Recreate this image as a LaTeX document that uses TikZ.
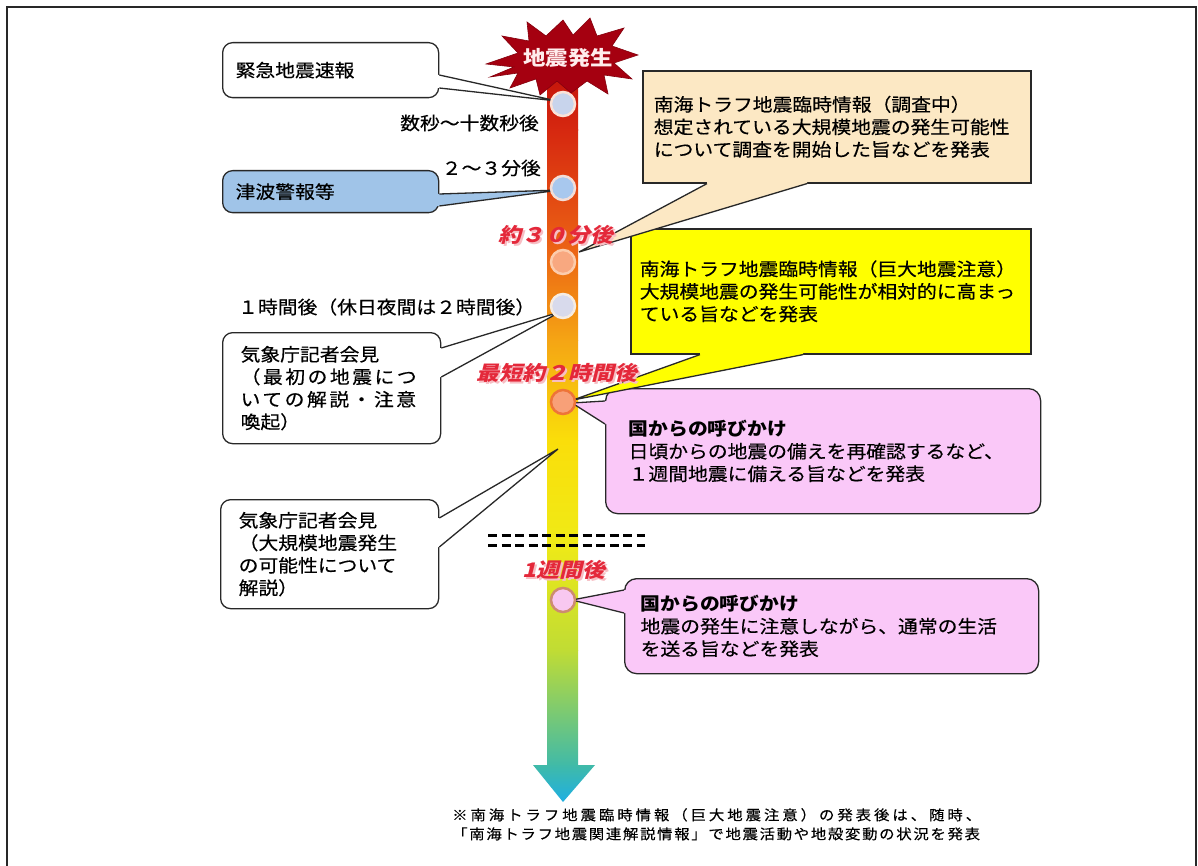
\documentclass[tikz,border=0pt]{standalone}
\usepackage{fontspec}
\newfontfamily\jp[FakeStretch=1.1,FakeBold=0.4]{Noto Sans CJK JP}
\newfontfamily\jpb[FakeStretch=1.1]{Noto Sans CJK JP}
\newfontfamily\jpwide[FakeStretch=1.1,FakeBold=0.4,LetterSpace=14]{Noto Sans CJK JP}
\newfontfamily\jpnoteA[FakeStretch=1.1,FakeBold=0.3,LetterSpace=21]{Noto Sans CJK JP}
\newfontfamily\jpnoteB[FakeStretch=1.1,FakeBold=0.3,LetterSpace=12]{Noto Sans CJK JP}
\newfontfamily\jpslant[FakeStretch=1.15,FakeSlant=0.25]{Noto Sans CJK JP}
\newfontfamily\jpburst[FakeStretch=1.12]{Noto Sans CJK JP}
\usetikzlibrary{calc}
\definecolor{edge}{RGB}{40,40,40}
\definecolor{labred}{RGB}{228,40,58}
\definecolor{tsunami}{RGB}{160,196,232}
\definecolor{beige}{RGB}{252,232,196}
\definecolor{yel}{RGB}{255,255,0}
\definecolor{pinkbox}{RGB}{250,200,248}
\definecolor{burstred}{RGB}{165,0,16}
\definecolor{bA1}{RGB}{185,8,8}
\definecolor{bA2}{RGB}{214,40,16}
\definecolor{bA3}{RGB}{236,100,20}
\definecolor{bA4}{RGB}{245,165,20}
\definecolor{bA5}{RGB}{250,222,10}
\definecolor{bA6}{RGB}{240,234,22}
\definecolor{bA7}{RGB}{192,220,52}
\definecolor{bA8}{RGB}{64,186,168}
\definecolor{bA9}{RGB}{30,175,226}
\definecolor{c1f}{RGB}{200,212,236}\definecolor{c1r}{RGB}{250,226,216}
\definecolor{c2f}{RGB}{168,200,238}\definecolor{c2r}{RGB}{242,222,216}
\definecolor{c3f}{RGB}{248,168,128}\definecolor{c3r}{RGB}{252,204,172}
\definecolor{c4f}{RGB}{216,218,236}\definecolor{c4r}{RGB}{246,236,226}
\definecolor{c5f}{RGB}{248,160,120}\definecolor{c5r}{RGB}{238,116,56}
\definecolor{c6f}{RGB}{248,200,240}\definecolor{c6r}{RGB}{205,140,112}
\newcommand\calltail[5]{%
  \fill[#5] ($#1+#4$) -- #1 -- #3 -- #2 -- ($#2+#4$) -- cycle;
  \draw[cline] #1 -- #3 -- #2;}
\begin{document}
\begin{tikzpicture}[x=1pt,y=-1pt,
  cline/.style={draw=edge, line width=1.3pt, line join=miter},
  rbox/.style={draw=edge, line width=1.3pt, rounded corners=10pt, anchor=north west,
    align=left, inner ysep=0pt, font=\jp\fontsize{18}{22.5}\selectfont},
  sbox/.style={rbox, rounded corners=0pt, line width=1.6pt},
  tlabel/.style={font=\jp\fontsize{18}{22}\selectfont, inner sep=0pt},
  redlab/.style={font=\jpslant\bfseries\fontsize{20}{24}\selectfont, text=labred, inner sep=0pt},
  redshadow/.style={redlab, text=labred!30},
  dot/.style={circle, minimum size=24pt, inner sep=0pt, line width=2.5pt},
]
\useasboundingbox (0,0) rectangle (1198,866);
\fill[white] (0,0) rectangle (1198,866);
% frame
\draw[line width=1.6pt, edge] (7,866) -- (7,7) -- (1196,7) -- (1196,866);

% time bar
\shade[top color=bA1, bottom color=bA2] (547,38) rectangle (578,130.5);
\shade[top color=bA2, bottom color=bA3] (547,130) rectangle (578,250.5);
\shade[top color=bA3, bottom color=bA4] (547,250) rectangle (578,340.5);
\shade[top color=bA4, bottom color=bA5] (547,340) rectangle (578,440.5);
\shade[top color=bA5, bottom color=bA6] (547,440) rectangle (578,540.5);
\shade[top color=bA6, bottom color=bA7] (547,540) rectangle (578,650.5);
\shade[top color=bA7, bottom color=bA8] (547,650) rectangle (578,766);
\shade[top color=bA8, bottom color=bA9] (533,765) -- (595,765) -- (563,802) -- cycle;

% starburst
\fill[burstred, draw=burstred!80!black, line width=0.6pt]
 (486,64) -- (518,53) -- (502,36) -- (529,41) -- (527,22) -- (546,36) -- (563,20)
 -- (573,35) -- (590,18) -- (597,36) -- (624,28) -- (612,46) -- (638,55) -- (614,63)
 -- (632,79) -- (604,75) -- (608,94) -- (587,81) -- (571,93) -- (557,81) -- (540,95)
 -- (536,79) -- (510,88) -- (518,73) -- (490,77) -- (514,67) -- cycle;
\node[font=\jpburst\bfseries\fontsize{20}{24}\selectfont, text={rgb,255:red,255;green,236;blue,236}, inner sep=0pt] (quake) at (568,58) {地震発生};

% left boxes
\node[rbox, fill=white, minimum width=216pt, minimum height=55pt, text width=190pt, inner xsep=13pt] (b1) at (222,42) {緊急地震速報};
\node[rbox, fill=tsunami, minimum width=216pt, minimum height=42pt, text width=190pt, inner xsep=13pt] (b2) at (222,170) {津波警報等};
\node[rbox, fill=white, minimum width=218pt, minimum height=111pt, text width=182pt, inner xsep=18pt] (b3) at (222,332)
 {気象庁記者会見\\{\jpwide （最初の地震につ}\\{\jpwide いての解説・注意}\\喚起）};
\node[rbox, fill=white, minimum width=218pt, minimum height=109pt, text width=182pt, inner xsep=18pt] (b4) at (220,499)
 {気象庁記者会見\\（大規模地震発生\\の可能性について\\解説）};

% right boxes
\node[sbox, fill=beige, minimum width=388pt, minimum height=112pt, text width=366pt, inner xsep=11pt] (bA) at (642,70)
 {南海トラフ地震臨時情報（調査中）\\想定されている大規模地震の発生可能性\\について調査を開始した旨などを発表};
\node[sbox, fill=yel, minimum width=400pt, minimum height=125pt, text width=382pt, inner xsep=9pt] (bB) at (630,228)
 {南海トラフ地震臨時情報（巨大地震注意）\\大規模地震の発生可能性が相対的に高まっ\\ている旨などを発表};
\node[rbox, rounded corners=12pt, fill=pinkbox, minimum width=435pt, minimum height=125pt, text width=389pt, inner xsep=23pt] (bP1) at (605,388)
 {{\jpb\bfseries 国からの呼びかけ}\\日頃からの地震の備えを再確認するなど、\\１週間地震に備える旨などを発表};
\node[rbox, rounded corners=12pt, fill=pinkbox, minimum width=414pt, minimum height=95pt, text width=382pt, inner xsep=16pt] (bP2) at (624,578)
 {{\jpb\bfseries 国からの呼びかけ}\\地震の発生に注意しながら、通常の生活\\を送る旨などを発表};

% callout tails
\coordinate (t1) at (557,101);
\coordinate (b1a) at ($(b1.north east)+(0,33)$);
\coordinate (b1b) at ($(b1.north east)+(0,46)$);
\calltail{(b1a)}{(b1b)}{(t1)}{(-3,0)}{white}
\coordinate (t2) at (560,190);
\coordinate (b2a) at ($(b2.north east)+(0,24)$);
\coordinate (b2b) at ($(b2.north east)+(0,36)$);
\calltail{(b2a)}{(b2b)}{(t2)}{(-3,0)}{tsunami}
\coordinate (t3) at (560,312);
\coordinate (b3a) at ($(b3.north east)+(0,16)$);
\coordinate (b3b) at ($(b3.north east)+(0,45)$);
\calltail{(b3a)}{(b3b)}{(t3)}{(-3,0)}{white}
\coordinate (t4) at (558,449);
\coordinate (b4a) at ($(b4.north east)+(0,19)$);
\coordinate (b4b) at ($(b4.north east)+(0,48)$);
\calltail{(b4a)}{(b4b)}{(t4)}{(-3,0)}{white}
\coordinate (tA) at (579,252);
\coordinate (bAa) at ($(bA.south west)+(65,0)$);
\coordinate (bAb) at ($(bA.south west)+(165,0)$);
\calltail{(bAa)}{(bAb)}{(tA)}{(0,-3)}{beige}
\coordinate (tB) at (573,400);
\coordinate (bBa) at ($(bB.south west)+(70,0)$);
\coordinate (bBb) at ($(bB.south west)+(173,0)$);
\calltail{(bBa)}{(bBb)}{(tB)}{(0,-3)}{yel}
\coordinate (tP1) at (572,403);
\coordinate (bP1a) at ($(bP1.north west)+(0,13)$);
\coordinate (bP1b) at ($(bP1.north west)+(0,36)$);
\calltail{(bP1a)}{(bP1b)}{(tP1)}{(3,0)}{pinkbox}
\coordinate (tP2) at (572,600);
\coordinate (bP2a) at ($(bP2.north west)+(0,12)$);
\coordinate (bP2b) at ($(bP2.north west)+(0,35)$);
\calltail{(bP2a)}{(bP2b)}{(tP2)}{(3,0)}{pinkbox}

% circles on the bar
\node[dot, fill=c1f, draw=c1r] (c1) at (563,104) {};
\node[dot, fill=c2f, draw=c2r] (c2) at (563,188) {};
\node[dot, fill=c3f, draw=c3r] (c3) at (563,262) {};
\node[dot, fill=c4f, draw=c4r] (c4) at (563,306) {};
\node[dot, fill=c5f, draw=c5r] (c5) at (563,402) {};
\node[dot, fill=c6f, draw=c6r] (c6) at (563,600) {};

% time labels
\node[tlabel, anchor=east] (l1) at (539,123) {数秒～十数秒後};
\node[tlabel, anchor=east] (l2) at (541,168) {２～３分後};
\node[tlabel, anchor=west] (l3) at (238,307) {１時間後（休日夜間は２時間後）};

% red labels
\node[redshadow] (r1s) at (557.5,236.5) {約３０分後};
\node[redlab] (r1) at (556,235) {約３０分後};
\node[redshadow] (r2s) at (558.5,374.5) {最短約２時間後};
\node[redlab] (r2) at (557,373) {最短約２時間後};
\node[redshadow] (r3s) at (565.5,571.5) {1週間後};
\node[redlab] (r3) at (564,570) {1週間後};

% dashed separators
\coordinate (d1l) at (488,535); \coordinate (d1r) at (645,535);
\coordinate (d2l) at (488,545); \coordinate (d2r) at (645,545);
\draw[line width=3pt, dash pattern=on 9pt off 4.5pt] (d1l) -- (d1r);
\draw[line width=3pt, dash pattern=on 9pt off 4.5pt] (d2l) -- (d2r);

% footnote
\node[font=\jpnoteA\fontsize{14}{19}\selectfont, anchor=north west, align=left, inner sep=0pt] (note) at (452,808)
 {※南海トラフ地震臨時情報（巨大地震注意）の発表後は、随時、\\{\jpnoteB 「南海トラフ地震関連解説情報」で地震活動や地殻変動の状況を発表}};
\end{tikzpicture}
\end{document}
